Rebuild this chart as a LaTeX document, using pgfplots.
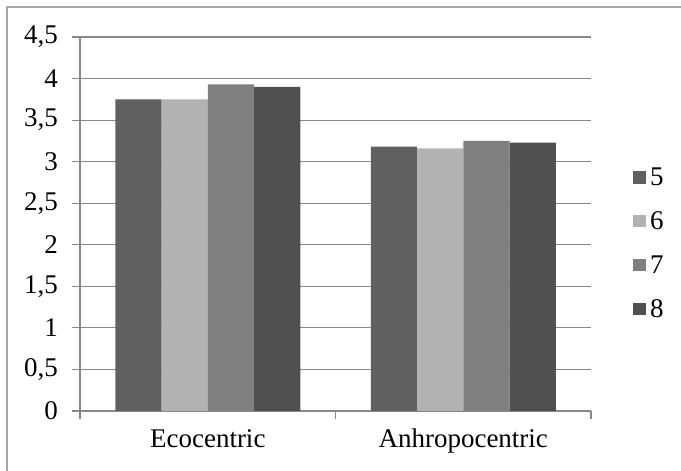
\documentclass[border=0pt]{standalone}
\usepackage{fontspec}
\setmainfont{Liberation Serif}
\usepackage{pgfplots}
\pgfplotsset{compat=1.18}

\definecolor{cfive}{HTML}{606060}
\definecolor{csix}{HTML}{B2B2B2}
\definecolor{cseven}{HTML}{808080}
\definecolor{ceight}{HTML}{505050}
\definecolor{axisgray}{HTML}{888888}
\definecolor{framegray}{HTML}{A6A6A6}

\begin{document}
\begin{tikzpicture}[x=1pt,y=1pt]
  % outer chart frame (only left and top show in the picture)
  \draw[framegray, line width=1.3pt] (7,0) -- (7,464) -- (681,464);
  \begin{axis}[
      at={(80pt,60pt)}, anchor=south west,
      scale only axis, width=511pt, height=374pt,
      ybar=0pt, bar width=46.25pt,
      xmin=-0.5, xmax=1.5, ymin=0, ymax=4.5,
      axis lines*=left,
      axis line style={axisgray, line width=1.2pt},
      tick align=outside, major tick length=8pt,
      tick style={axisgray, line width=1.2pt},
      xtick={-0.5,0.5,1.5}, xticklabels={},
      extra x ticks={0,1}, extra x tick labels={Ecocentric,Anhropocentric},
      extra x tick style={major tick length=0pt, grid=none},
      ytick={0,0.5,1,1.5,2,2.5,3,3.5,4,4.5},
      ymajorgrids,
      grid style={axisgray, line width=1.2pt},
      /pgf/number format/assume math mode=true,
      /pgf/number format/use comma,
      /pgf/number format/fixed,
      /pgf/number format/precision=1,
      every tick label/.append style={font=\fontsize{27}{30}\selectfont, inner sep=0pt},
      yticklabel style={xshift=-14pt},
      xticklabel style={yshift=-18pt},
      legend style={at={(1.076,0.448)}, anchor=west, draw=none, fill=none,
        font=\fontsize{27}{30}\selectfont, row sep=24.5pt,
        nodes={inner sep=0pt}},
      legend image code/.code={%
        \path (0pt,0pt) -- (17pt,0pt);
        \draw[#1, draw=none] (0pt,-6pt) rectangle (13pt,6.5pt);},
    ]
    \addplot[fill=cfive, draw=none] coordinates {(0,3.75) (1,3.18)};
    \addplot[fill=csix, draw=none] coordinates {(0,3.75) (1,3.16)};
    \addplot[fill=cseven, draw=none] coordinates {(0,3.93) (1,3.25)};
    \addplot[fill=ceight, draw=none] coordinates {(0,3.90) (1,3.23)};
    \legend{5,6,7,8}
  \end{axis}
  \pgfresetboundingbox
  \useasboundingbox (0,0) rectangle (681,471);
\end{tikzpicture}
\end{document}
